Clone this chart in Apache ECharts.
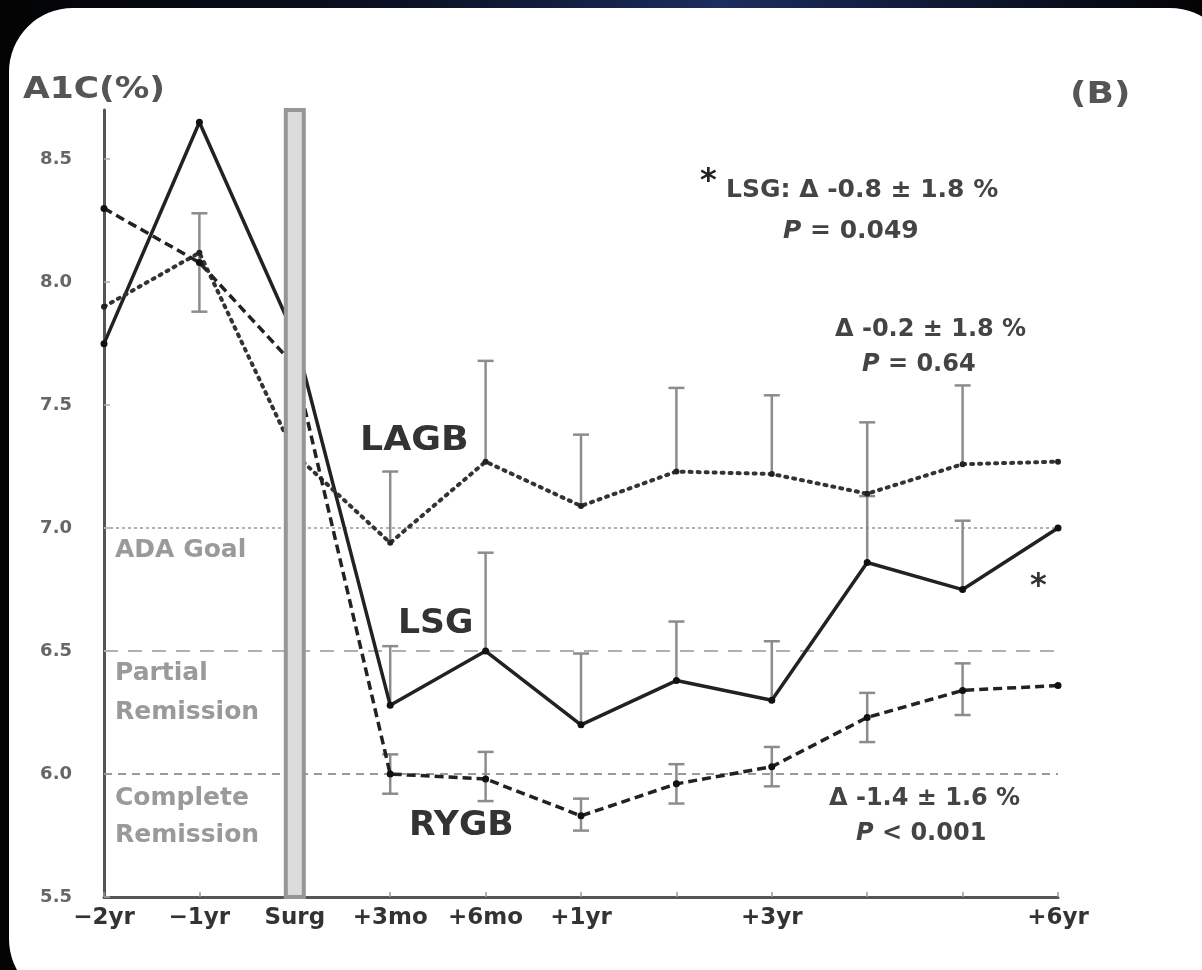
<!DOCTYPE html>
<html>
<head>
<meta charset="utf-8">
<script src="https://cdn.jsdelivr.net/npm/echarts@6/dist/echarts.min.js"></script>
<style>
html,body{margin:0;padding:0;width:1202px;height:970px;overflow:hidden;
  background:linear-gradient(90deg,#030303 0%,#0b1226 35%,#1b2d5e 60%,#0b1226 85%,#030303 100%);}
#panel{position:absolute;left:9px;top:8px;width:1225px;height:995px;background:#fff;border-radius:64px;}
#chart{position:absolute;left:0;top:0;width:1202px;height:970px;}
</style>
</head>
<body>
<div id="panel"></div>
<div id="chart"></div>
<script>
// time points (x axis) and the labels actually printed under them
const categories = ['−2yr','−1yr','Surg','+3mo','+6mo','+1yr','+2yr','+3yr','+4yr','+5yr','+6yr'];
const shownLabels = ['−2yr','−1yr','Surg','+3mo','+6mo','+1yr','','+3yr','','','+6yr'];
const yTicks = [5.5, 6.0, 6.5, 7.0, 7.5, 8.0, 8.5];
const yMin = 5.5, yMax = 8.7;
const surgIndex = 2;

// mean A1C (%)
const lsg  = [7.75, 8.65, 7.78, 6.28, 6.50, 6.20, 6.38, 6.30, 6.86, 6.75, 7.00];
const lagb = [7.90, 8.12, 7.30, 6.94, 7.27, 7.09, 7.23, 7.22, 7.14, 7.26, 7.27];
const rygb = [8.30, 8.08, 7.66, 6.00, 5.98, 5.83, 5.96, 6.03, 6.23, 6.34, 6.36];

// error bars (upper only for LSG / LAGB, both sides for RYGB)
const lsgUpper  = [null, null, null, 6.52, 6.90, 6.49, 6.62, 6.54, 7.13, 7.03, null];
const lagbUpper = [null, null, null, 7.23, 7.68, 7.38, 7.57, 7.54, 7.43, 7.58, null];
const rygbLow   = [null, 7.88, null, 5.92, 5.89, 5.77, 5.88, 5.95, 6.13, 6.24, null];
const rygbHigh  = [null, 8.28, null, 6.08, 6.09, 5.90, 6.04, 6.11, 6.33, 6.45, null];

// reference levels
const refLevels = [7.0, 6.5, 6.0];

const FONT = 'DejaVu Sans';
const chart = echarts.init(document.getElementById('chart'));

function bars(mean, upper, lower) {
  let out = [];
  mean.forEach((m, i) => {
    if (upper[i] == null) return;
    out.push([i, lower ? lower[i] : m, upper[i], lower ? 1 : 0]);
  });
  return out;
}

function errorBar(params, api) {
  const x = api.value(0);
  const lo = api.coord([x, api.value(1)]);
  const hi = api.coord([x, api.value(2)]);
  const w = 8;
  const style = {stroke: '#8c8c8c', lineWidth: 2.5};
  const kids = [
    {type: 'line', shape: {x1: lo[0], y1: lo[1], x2: hi[0], y2: hi[1]}, style: style},
    {type: 'line', shape: {x1: hi[0] - w, y1: hi[1], x2: hi[0] + w, y2: hi[1]}, style: style}
  ];
  if (api.value(3)) kids.push({type: 'line', shape: {x1: lo[0] - w, y1: lo[1], x2: lo[0] + w, y2: lo[1]}, style: style});
  return {type: 'group', children: kids};
}

function errSeries(data) {
  return {type: 'custom', renderItem: errorBar, data: data, z: 2, silent: true,
    encode: {x: 0, y: [1, 2]}};
}

const refStyles = [
  {type: [3, 3], color: '#b0b0b0', width: 2},
  {type: [14, 10], color: '#b0b0b0', width: 2},
  {type: [8, 6], color: '#9a9a9a', width: 2}
];

// text annotation, x = left edge, y = vertical middle
function txt(x, y, text, size, color, sx, rich) {
  return {
    type: 'text', x: x, y: y, scaleX: sx || 1, z: 10,
    style: {text: text, fontFamily: FONT, fontWeight: 'bold', fontSize: size, fill: color,
      align: 'left', verticalAlign: 'middle', rich: rich}
  };
}
const italP = size => ({i: {fontStyle: 'italic', fontFamily: FONT, fontWeight: 'bold', fontSize: size, fill: '#444'}});

chart.setOption({
  animation: false,
  grid: {left: 104, right: 144, top: 110, bottom: 73},
  xAxis: {
    type: 'category', data: categories, boundaryGap: false,
    axisLine: {lineStyle: {color: '#555', width: 3}},
    axisTick: {inside: true, length: 5, lineStyle: {color: '#999', width: 1.5}},
    axisLabel: {interval: 0, margin: 10, fontFamily: FONT, fontWeight: 'bold', fontSize: 23, color: '#333',
      formatter: (v, i) => shownLabels[i]},
    splitLine: {show: false}
  },
  yAxis: {
    type: 'value', min: yMin, max: yMax,
    axisLine: {show: true, lineStyle: {color: '#555', width: 3}},
    axisTick: {show: true, inside: true, length: 6, customValues: yTicks, lineStyle: {color: '#aaa', width: 1.5}},
    axisLabel: {customValues: yTicks, margin: 32, fontFamily: FONT, fontWeight: 'bold', fontSize: 18, color: '#666',
      formatter: v => v.toFixed(1)},
    splitLine: {show: false}
  },
  series: [
    {
      name: 'LSG', type: 'line', data: lsg, z: 3,
      symbol: 'circle', symbolSize: 7, itemStyle: {color: '#111'},
      lineStyle: {color: '#222', width: 3.5},
      markLine: {
        silent: true, symbol: 'none', label: {show: false}, z: 1,
        data: refLevels.map((v, i) => ({yAxis: v, lineStyle: refStyles[i]}))
      }
    },
    {
      name: 'LAGB', type: 'line', data: lagb, z: 3,
      symbol: 'circle', symbolSize: 6, itemStyle: {color: '#222'},
      lineStyle: {color: '#333', width: 4, type: [2, 6], cap: 'round'}
    },
    {
      name: 'RYGB', type: 'line', data: rygb, z: 3,
      symbol: 'circle', symbolSize: 7, itemStyle: {color: '#111'},
      lineStyle: {color: '#222', width: 3.5, type: [9, 5]}
    },
    errSeries(bars(lsg, lsgUpper)),
    errSeries(bars(lagb, lagbUpper)),
    errSeries(bars(rygb, rygbHigh, rygbLow)),
    {
      type: 'custom', z: 5, silent: true, data: [[surgIndex, yMax]],
      encode: {x: 0, y: 1},
      renderItem: (params, api) => {
        const top = api.coord([api.value(0), api.value(1)]);
        const bot = api.coord([api.value(0), yMin]);
        return {type: 'rect', shape: {x: top[0] - 9, y: top[1], width: 18, height: bot[1] - top[1]},
          style: {fill: '#dcdcdc', stroke: '#969696', lineWidth: 4}};
      }
    }
  ],
  graphic: [
    txt(23, 90, 'A1C(%)', 30, '#555', 1.15),
    txt(1070, 95, '(B)', 30, '#555', 1.2),
    txt(115, 550, 'ADA Goal', 25, '#9a9a9a'),
    txt(115, 673, 'Partial', 25, '#9a9a9a'),
    txt(115, 712, 'Remission', 25, '#9a9a9a'),
    txt(115, 798, 'Complete', 25, '#9a9a9a'),
    txt(115, 835, 'Remission', 25, '#9a9a9a'),
    txt(360, 441, 'LAGB', 33, '#333', 1.1),
    txt(398, 624, 'LSG', 33, '#333', 1.05),
    txt(409, 826, 'RYGB', 33, '#333', 1.05),
    txt(700, 182, '*', 32, '#222'),
    txt(726, 190, 'LSG: Δ -0.8 ± 1.8 %', 25, '#444'),
    txt(783, 231, '{i|P} = 0.049', 25, '#444', 1, italP(25)),
    txt(835, 330, 'Δ -0.2 ± 1.8 %', 24, '#444'),
    txt(862, 365, '{i|P} = 0.64', 24, '#444', 1, italP(24)),
    txt(1030, 587, '*', 32, '#333'),
    txt(829, 799, 'Δ -1.4 ± 1.6 %', 24, '#444'),
    txt(856, 834, '{i|P} < 0.001', 24, '#444', 1, italP(24))
  ]
});
</script>
</body>
</html>
